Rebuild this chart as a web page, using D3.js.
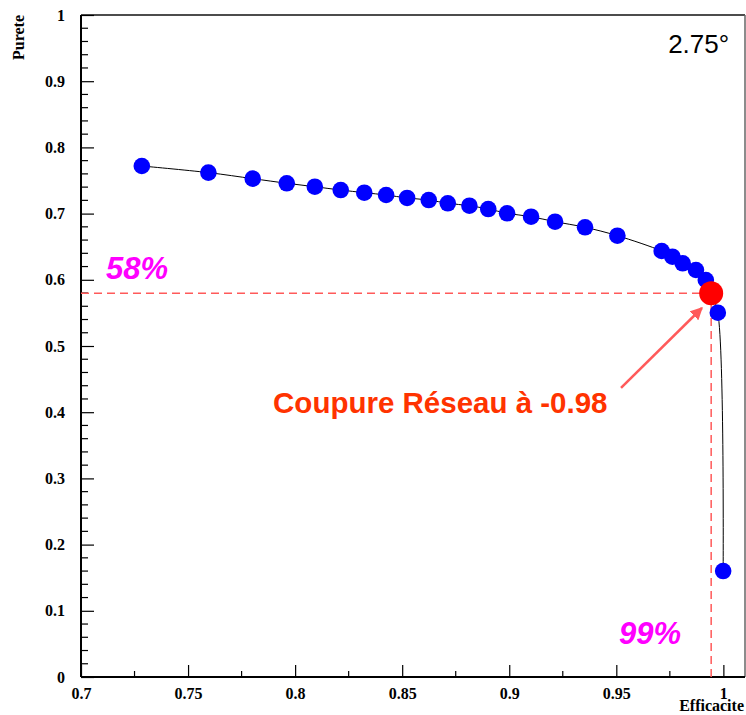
<!DOCTYPE html>
<html>
<head>
<meta charset="utf-8">
<script src="https://cdn.jsdelivr.net/npm/d3@7"></script>
<style>
  html, body { margin: 0; padding: 0; background: #fff; }
  svg { display: block; }
</style>
</head>
<body>
<svg id="chart" width="746" height="715"></svg>
<script>
// ---- data ----
const efficacite = [0.7284, 0.7595, 0.7802, 0.7961, 0.8092, 0.8213, 0.8323, 0.8425, 0.8523, 0.8624,
                    0.8713, 0.8814, 0.8902, 0.8990, 0.9102, 0.9214, 0.9354, 0.9505, 0.9712, 0.9762,
                    0.9810, 0.9872, 0.9918, 0.9943, 0.9974, 0.9999];
const purete     = [0.7719, 0.7619, 0.7528, 0.7458, 0.7406, 0.7356, 0.7316, 0.7281, 0.7236, 0.7205,
                    0.7156, 0.7119, 0.7069, 0.7005, 0.6953, 0.6878, 0.6793, 0.6666, 0.6435, 0.6349,
                    0.6249, 0.6148, 0.5997, 0.5796, 0.5503, 0.1601];
const cutEff = 0.9943;
const cutPur = 0.5796;
const xTicks = [0.7, 0.75, 0.8, 0.85, 0.9, 0.95, 1];
const xTickLabels = ["0.7", "0.75", "0.8", "0.85", "0.9", "0.95", "1"];
const yTicks = [0, 0.1, 0.2, 0.3, 0.4, 0.5, 0.6, 0.7, 0.8, 0.9, 1];
const yTickLabels = ["0", "0.1", "0.2", "0.3", "0.4", "0.5", "0.6", "0.7", "0.8", "0.9", "1"];
const angleLabel = "2.75°";
const purLabel = "58%";
const effLabel = "99%";
const cutLabel = "Coupure Réseau à -0.98";
const xTitle = "Efficacite";
const yTitle = "Purete";

// ---- layout ----
const svg = d3.select("#chart");
const L = 81, R = 745, T = 15, B = 677;
const x = d3.scaleLinear().domain([0.7, 1.0101]).range([L, R]);
const y = d3.scaleLinear().domain([0, 1]).range([B, T]);

const serif = "'Liberation Serif', 'Times New Roman', serif";
const sans = "'Liberation Sans', Arial, Helvetica, sans-serif";

// frame top/right
svg.append("line").attr("x1", L).attr("x2", R).attr("y1", T).attr("y2", T)
  .attr("stroke", "#111").attr("stroke-width", 1.5);
svg.append("line").attr("x1", R).attr("x2", R).attr("y1", T).attr("y2", B)
  .attr("stroke", "#666").attr("stroke-width", 1.5);

// x axis (ticks pointing up, inside)
const xMinor = d3.range(0.725, 1.01, 0.05);
const xAxis = d3.axisBottom(x).tickValues(xTicks).tickSize(-12)
  .tickFormat((d, i) => xTickLabels[i]).tickPadding(15);
const gx = svg.append("g").attr("transform", `translate(0,${B})`).call(xAxis);
gx.select(".domain").attr("stroke", "#000").attr("stroke-width", 2).attr("d", `M${L},0H${R}`);
gx.selectAll(".tick line").attr("stroke", "#000").attr("stroke-width", 1.2);
gx.selectAll(".tick text").attr("font-family", serif).attr("font-weight", "bold")
  .attr("font-size", 16).attr("fill", "#000").attr("dy", "0.45em");
svg.append("g").selectAll("line").data(xMinor).join("line")
  .attr("x1", d => x(d)).attr("x2", d => x(d)).attr("y1", B).attr("y2", B - 6)
  .attr("stroke", "#000").attr("stroke-width", 1.2);

// y axis (ticks pointing right, inside)
const yMinor = d3.range(0, 1.0001, 0.02).filter(v => Math.abs(v * 10 - Math.round(v * 10)) > 1e-6);
const yAxis = d3.axisLeft(y).tickValues(yTicks).tickSize(-13)
  .tickFormat((d, i) => yTickLabels[i]).tickPadding(16);
const gy = svg.append("g").attr("transform", `translate(${L},0)`).call(yAxis);
gy.select(".domain").attr("stroke", "#000").attr("stroke-width", 2).attr("d", `M0,${B}V${T}`);
gy.selectAll(".tick line").attr("stroke", "#000").attr("stroke-width", 1.2);
gy.selectAll(".tick text").attr("font-family", serif).attr("font-weight", "bold")
  .attr("font-size", 16).attr("fill", "#000");
svg.append("g").selectAll("line").data(yMinor).join("line")
  .attr("x1", L).attr("x2", L + 7).attr("y1", d => y(d)).attr("y2", d => y(d))
  .attr("stroke", "#000").attr("stroke-width", 1.2);

// axis titles
svg.append("text").attr("x", R - 1).attr("y", 711).attr("text-anchor", "end")
  .attr("font-family", serif).attr("font-weight", "bold").attr("font-size", 16).text(xTitle);
svg.append("text").attr("transform", `translate(24,${T}) rotate(-90)`).attr("text-anchor", "end")
  .attr("font-family", serif).attr("font-weight", "bold").attr("font-size", 16).text(yTitle);

// dashed reference lines
const dashCol = "#ff5a5a";
svg.append("line").attr("x1", x(0.7)).attr("x2", x(cutEff)).attr("y1", y(cutPur)).attr("y2", y(cutPur))
  .attr("stroke", dashCol).attr("stroke-width", 1.5).attr("stroke-dasharray", "8,5");
svg.append("line").attr("x1", x(cutEff)).attr("x2", x(cutEff)).attr("y1", y(0)).attr("y2", y(cutPur))
  .attr("stroke", dashCol).attr("stroke-width", 1.5).attr("stroke-dasharray", "8,5");

// curve
const pts = efficacite.map((e, i) => [e, purete[i]]);
const line = d3.line().x(d => x(d[0])).y(d => y(d[1])).curve(d3.curveCatmullRom.alpha(0.5));
svg.append("path").datum(pts).attr("d", line).attr("fill", "none")
  .attr("stroke", "#000").attr("stroke-width", 1);

// markers
svg.append("g").selectAll("circle").data(pts).join("circle")
  .attr("cx", d => x(d[0])).attr("cy", d => y(d[1])).attr("r", 8.3).attr("fill", "#0000ff");
svg.append("circle").attr("cx", x(cutEff)).attr("cy", y(cutPur)).attr("r", 12).attr("fill", "#ff0000");

// arrow
svg.append("defs").append("marker").attr("id", "ah").attr("viewBox", "0 0 10 10")
  .attr("refX", 9).attr("refY", 5).attr("markerWidth", 5).attr("markerHeight", 5)
  .attr("markerUnits", "strokeWidth").attr("orient", "auto")
  .append("path").attr("d", "M0,0L10,5L0,10z").attr("fill", dashCol);
svg.append("line").attr("x1", x(0.9522)).attr("y1", y(0.4366)).attr("x2", x(0.9900)).attr("y2", y(0.5574))
  .attr("stroke", dashCol).attr("stroke-width", 2.5).attr("marker-end", "url(#ah)");

// annotations
svg.append("text").attr("x", x(0.7117)).attr("y", y(0.601)).attr("font-family", sans)
  .attr("font-weight", "bold").attr("font-style", "italic").attr("font-size", 31)
  .attr("fill", "#ff00ff").text(purLabel);
svg.append("text").attr("x", x(0.9513)).attr("y", y(0.0498)).attr("font-family", sans)
  .attr("font-weight", "bold").attr("font-style", "italic").attr("font-size", 31)
  .attr("fill", "#ff00ff").text(effLabel);
svg.append("text").attr("x", x(0.7897)).attr("y", y(0.3988)).attr("font-family", sans)
  .attr("font-weight", "bold").attr("font-size", 29.5).attr("fill", "#ff3300").text(cutLabel);
svg.append("text").attr("x", x(0.9742)).attr("y", y(0.9426)).attr("font-family", sans)
  .attr("font-size", 26).attr("fill", "#000").text(angleLabel);
</script>
</body>
</html>
